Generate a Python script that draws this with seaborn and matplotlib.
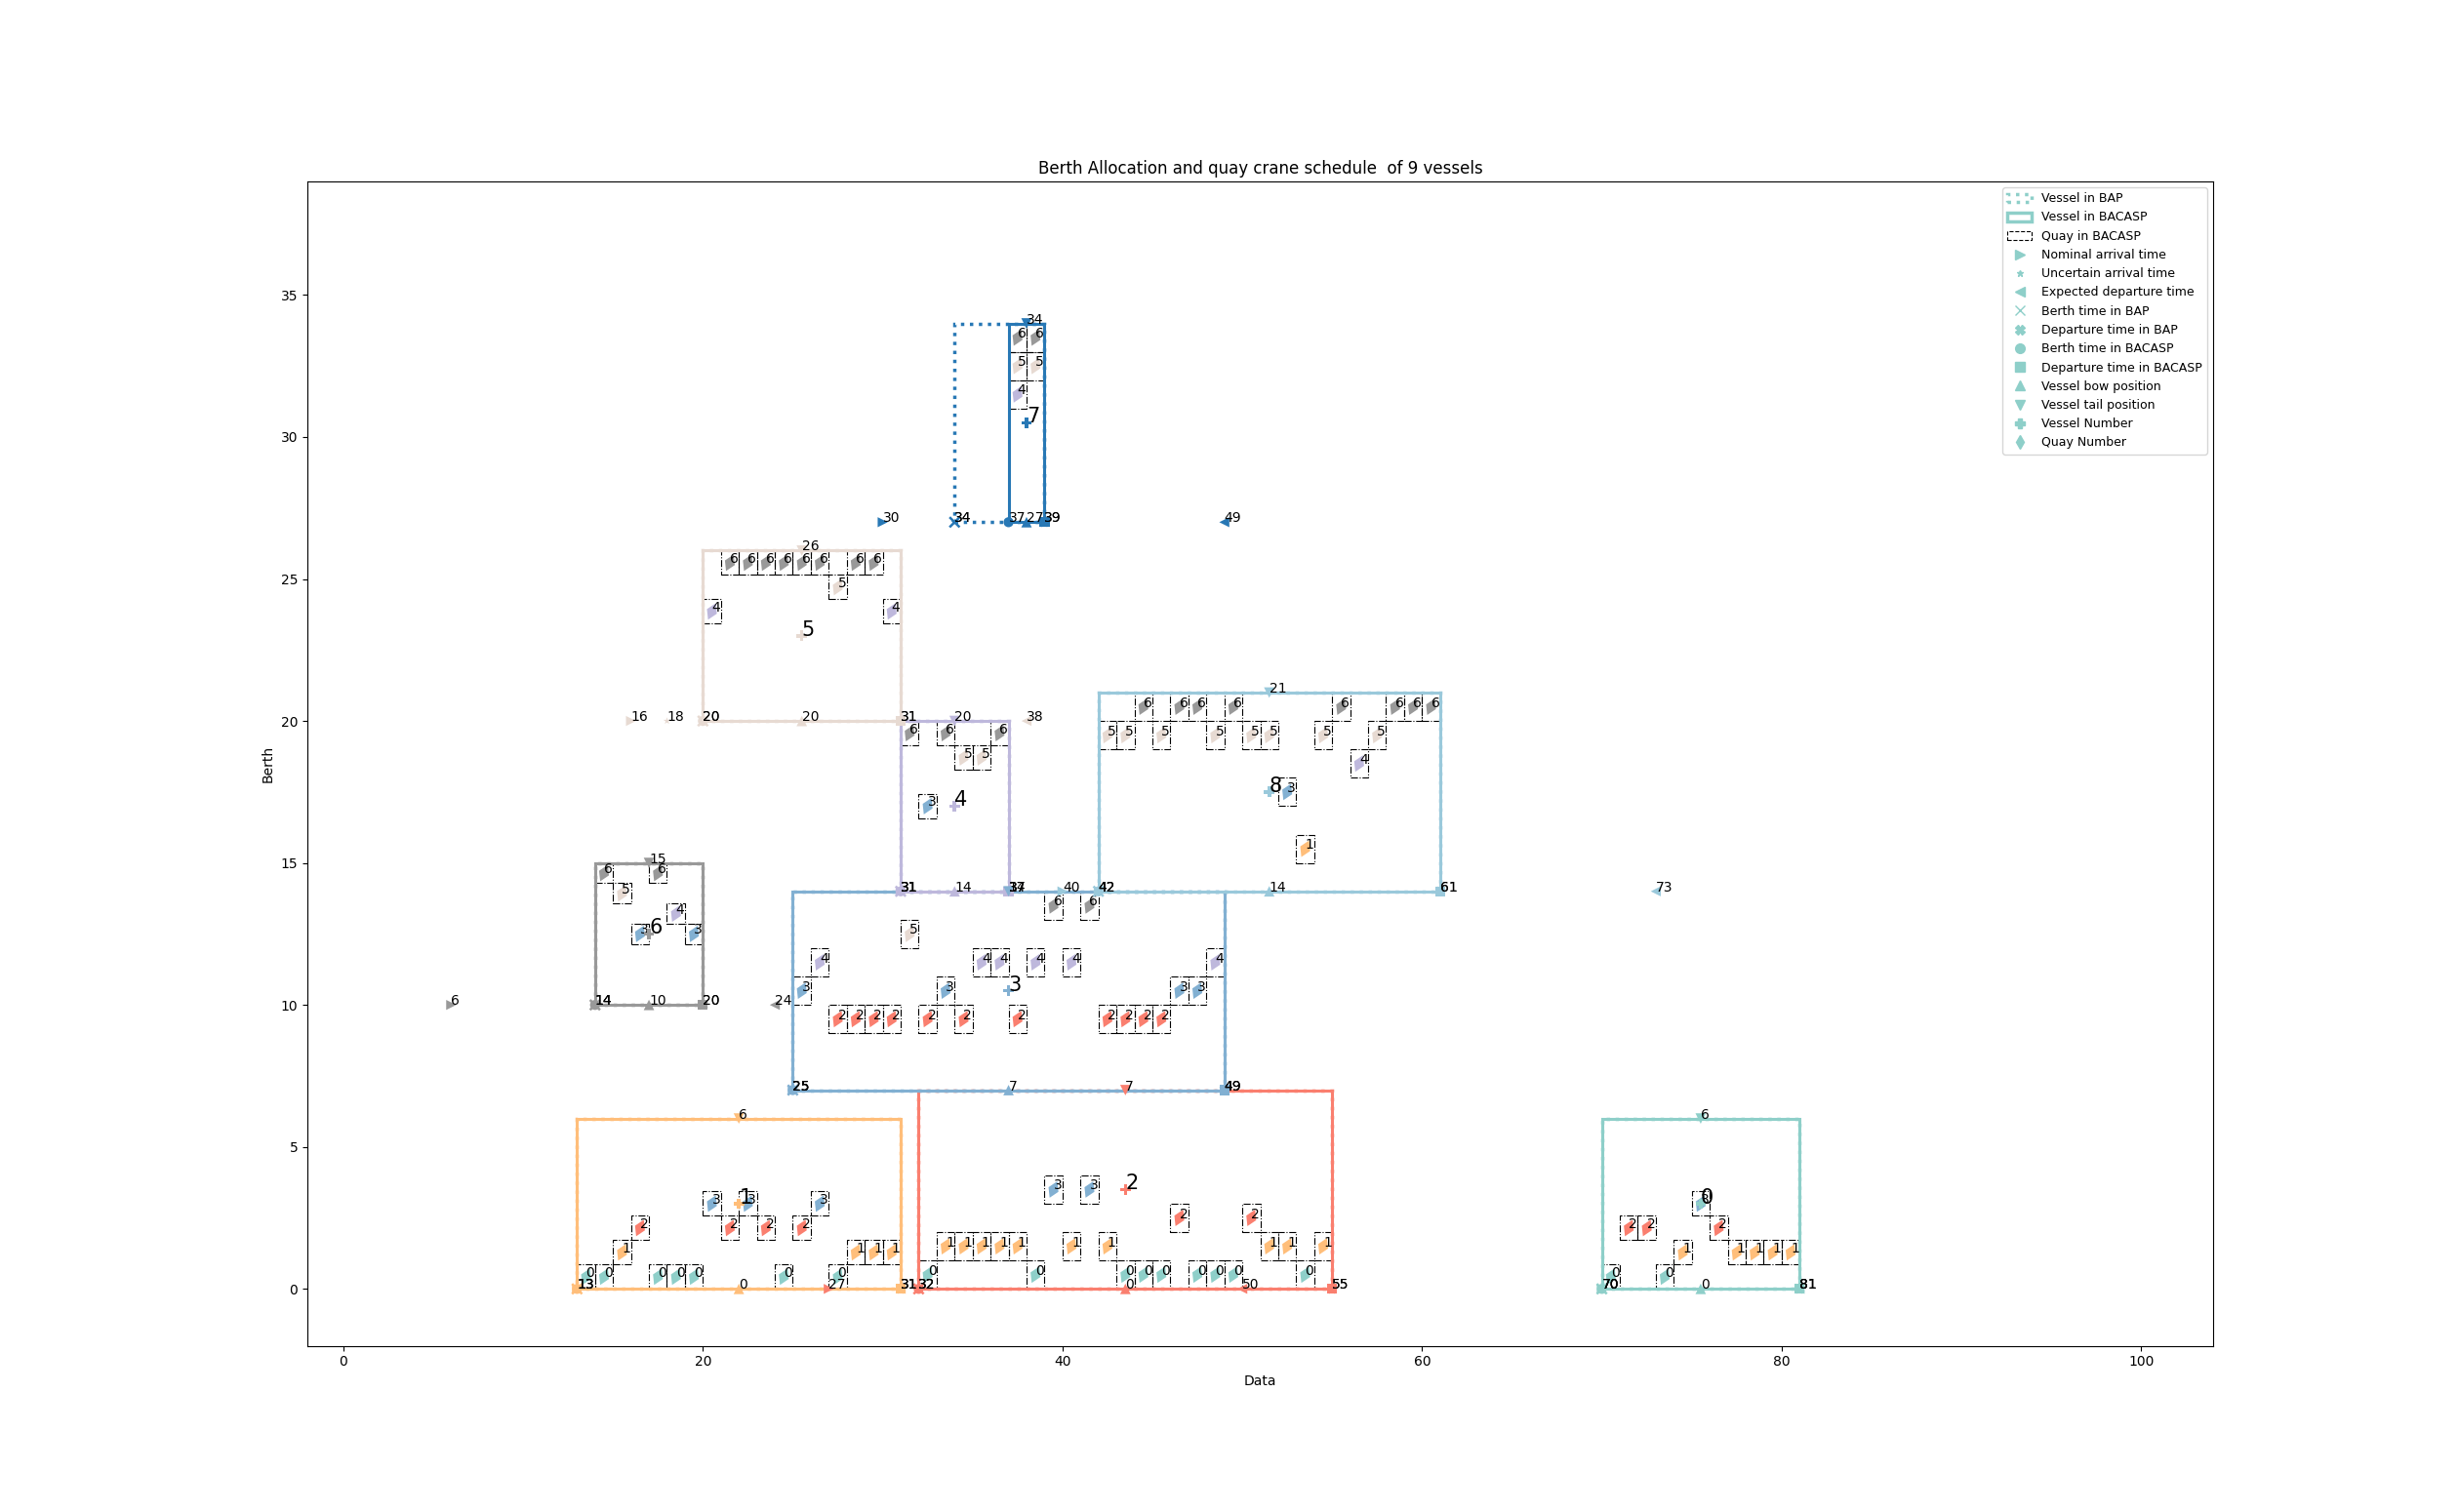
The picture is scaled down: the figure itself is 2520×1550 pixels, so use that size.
import seaborn as sns
import matplotlib.pyplot as plt
import matplotlib as mpl
import pandas as pd
import numpy as np
from matplotlib.patches import Rectangle, Patch
from matplotlib.lines import Line2D
from matplotlib.markers import MarkerStyle
from matplotlib.transforms import Affine2D

colors = ['#8ECFC9', '#FFBE7A', '#FA7F6F', '#82B0D2', '#BEB8DC',
          '#E7DAD2', '#999999', '#2878B5', '#9AC9DB']

vessels = [0, 1, 2, 3, 4, 5, 6, 7, 8]
berth_bacasp = [70, 13, 32, 25, 31, 20, 14, 37, 42]
depart_bacasp = [81, 31, 55, 49, 37, 31, 20, 39, 61]
berth_bap = [70, 13, 32, 25, 31, 20, 14, 34, 42]
depart_bap = [81, 31, 55, 49, 37, 31, 20, 39, 61]
bow = [0, 0, 0, 7, 14, 20, 10, 27, 14]
tail = [6, 6, 7, 14, 20, 26, 15, 34, 21]
nominal_arrival = [70, 13, 27, 25, 31, 16, 6, 30, 40]
uncertain_arrival = [70, 13, 32, 25, 31, 18, 14, 34, 42]
expected_departure = [81, 31, 50, 49, 37, 38, 24, 49, 73]

# quay -> time slots, one dict per vessel
quays_v0 = {0: [70, 73], 1: [74, 77, 78, 79, 80], 2: [71, 72, 76], 3: [75]}
quays_v1 = {0: [13, 14, 17, 18, 19, 24, 27], 1: [15, 28, 29, 30],
            2: [16, 21, 23, 25], 3: [20, 22, 26]}
quays_v2 = {0: [32, 38, 43, 44, 45, 47, 48, 49, 53],
            1: [33, 34, 35, 36, 37, 40, 42, 51, 52, 54], 2: [46, 50], 3: [39, 41]}
quays_v3 = {2: [27, 28, 29, 30, 32, 34, 37, 42, 43, 44, 45], 3: [25, 33, 46, 47],
            4: [26, 35, 36, 38, 40, 48], 5: [31], 6: [39, 41]}
quays_v4 = {3: [32], 5: [34, 35], 6: [31, 33, 36]}
quays_v5 = {4: [20, 30], 5: [27], 6: [21, 22, 23, 24, 25, 26, 28, 29]}
quays_v6 = {3: [16, 19], 4: [18], 5: [15], 6: [14, 17]}
quays_v7 = {4: [37], 5: [37, 38], 6: [37, 38]}
quays_v8 = {1: [53], 3: [52], 4: [56], 5: [42, 43, 45, 48, 50, 51, 54, 57],
            6: [44, 46, 47, 49, 55, 58, 59, 60]}
quays = [quays_v0, quays_v1, quays_v2, quays_v3, quays_v4,
         quays_v5, quays_v6, quays_v7, quays_v8]

n_quays = 7

fig, ax = plt.subplots(figsize=(25.2, 15.5), dpi=100)

# quay boxes
rows = []
for v in vessels:
    h = (tail[v] - bow[v]) / n_quays
    for q, times in quays[v].items():
        for t in times:
            ax.add_patch(Rectangle((t, bow[v] + q * h), 1, h, fill=False,
                                   edgecolor='black', linestyle='-.', linewidth=0.8))
            rows.append({'x': t + 0.5, 'y': bow[v] + (q + 0.5) * h, 'quay': q})
qdf = pd.DataFrame(rows)
diamond = MarkerStyle('d', transform=Affine2D().rotate_deg(-25))
sns.scatterplot(data=qdf, x='x', y='y', hue='quay', palette=colors[:n_quays],
                marker=diamond, s=90, linewidth=0, legend=False, ax=ax, zorder=3)
for _, r in qdf.iterrows():
    ax.text(r['x'], r['y'], str(int(r['quay'])), fontsize=10, zorder=4)

# vessel rectangles
for v in vessels:
    ax.add_patch(Rectangle((berth_bap[v], bow[v]), depart_bap[v] - berth_bap[v],
                           tail[v] - bow[v], fill=False, edgecolor=colors[v],
                           linestyle=':', linewidth=2.5, zorder=2))
    ax.add_patch(Rectangle((berth_bacasp[v], bow[v]), depart_bacasp[v] - berth_bacasp[v],
                           tail[v] - bow[v], fill=False, edgecolor=colors[v],
                           linewidth=2.2, zorder=2))

mid = [(b + d) / 2 for b, d in zip(berth_bacasp, depart_bacasp)]
center = [(b + t) / 2 for b, t in zip(bow, tail)]


def events(xs, ys, labels, marker, size, lw=0, fs=10):
    df = pd.DataFrame({'x': xs, 'y': ys, 'vessel': vessels})
    sns.scatterplot(data=df, x='x', y='y', hue='vessel', palette=colors,
                    marker=marker, s=size, linewidth=lw, legend=False, ax=ax, zorder=5)
    for x, y, lab in zip(xs, ys, labels):
        ax.text(x, y, str(lab), fontsize=fs, zorder=6)


events(nominal_arrival, bow, nominal_arrival, '>', 55)
events(uncertain_arrival, bow, uncertain_arrival, '*', 30)
events(expected_departure, bow, expected_departure, '<', 55)
events(berth_bap, bow, berth_bap, 'x', 55, lw=1.8)
events(depart_bap, bow, depart_bap, 'X', 55)
events(berth_bacasp, bow, berth_bacasp, 'o', 55)
events(depart_bacasp, bow, depart_bacasp, 's', 55)
events(mid, bow, bow, '^', 60)
events(mid, tail, tail, 'v', 60)
events(mid, center, vessels, 'P', 60, fs=15)

c0 = colors[0]
handles = [
    Patch(fill=False, edgecolor=c0, linestyle=':', linewidth=2.5, label='Vessel in BAP'),
    Patch(fill=False, edgecolor=c0, linewidth=2.5, label='Vessel in BACASP'),
    Patch(fill=False, edgecolor='black', linestyle='--', linewidth=0.8, label='Quay in BACASP'),
    Line2D([], [], ls='none', marker='>', color=c0, markersize=7, label='Nominal arrival time'),
    Line2D([], [], ls='none', marker='*', color=c0, markersize=5, label='Uncertain arrival time'),
    Line2D([], [], ls='none', marker='<', color=c0, markersize=7, label='Expected departure time'),
    Line2D([], [], ls='none', marker='x', color=c0, markersize=7, label='Berth time in BAP'),
    Line2D([], [], ls='none', marker='X', color=c0, markersize=7, label='Departure time in BAP'),
    Line2D([], [], ls='none', marker='o', color=c0, markersize=7, label='Berth time in BACASP'),
    Line2D([], [], ls='none', marker='s', color=c0, markersize=7, label='Departure time in BACASP'),
    Line2D([], [], ls='none', marker='^', color=c0, markersize=7, label='Vessel bow position'),
    Line2D([], [], ls='none', marker='v', color=c0, markersize=7, label='Vessel tail position'),
    Line2D([], [], ls='none', marker='P', color=c0, markersize=7, label='Vessel Number'),
    Line2D([], [], ls='none', marker='d', color=c0, markersize=7, label='Quay Number'),
]
ax.legend(handles=handles, loc='upper right', fontsize=9)

ax.set_xlim(-2, 104)
ax.set_ylim(-2, 39)
ax.set_xticks([0, 20, 40, 60, 80, 100])
ax.set_yticks([0, 5, 10, 15, 20, 25, 30, 35])
ax.set_xlabel('Data')
ax.set_ylabel('Berth')
ax.set_title('Berth Allocation and quay crane schedule  of 9 vessels')

plt.savefig('out.png', dpi=100)
